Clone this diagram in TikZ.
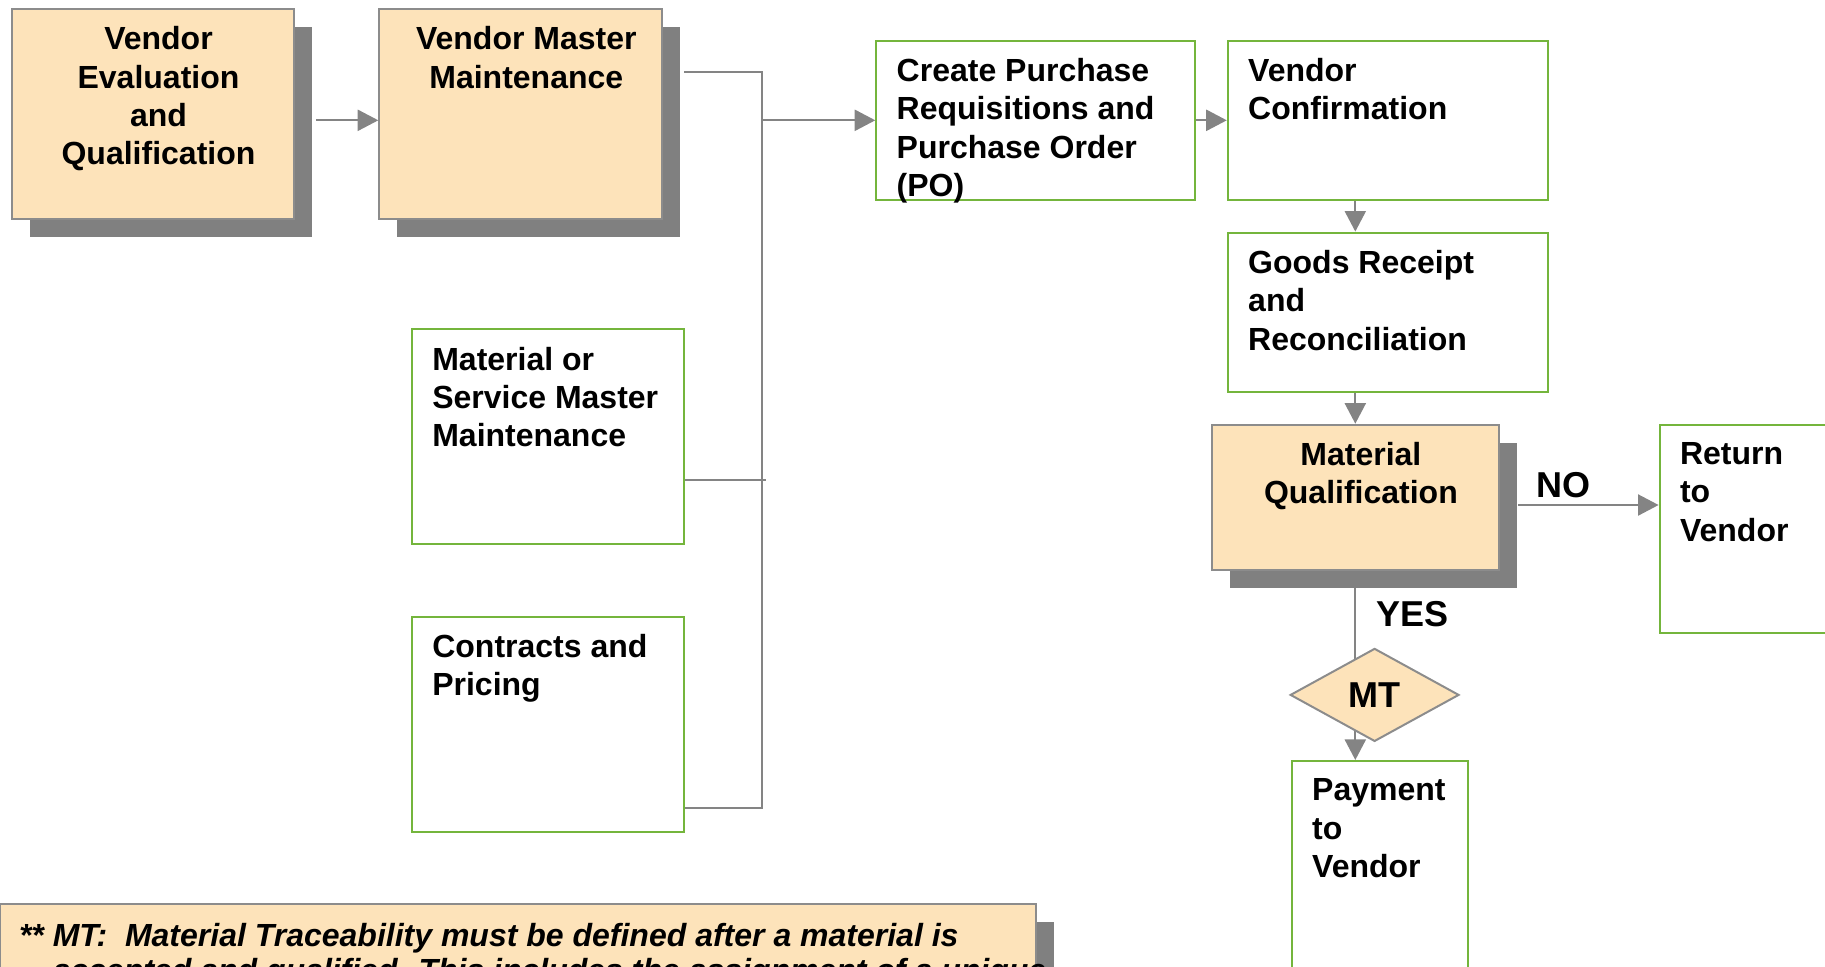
\documentclass[tikz,border=0pt]{standalone}
\usepackage{fontspec}
\setmainfont{Liberation Sans}
\usetikzlibrary{arrows.meta, shapes.geometric, shadows, backgrounds}
\definecolor{stagefill}{HTML}{FDE3BA}
\definecolor{stageline}{HTML}{8C8C8C}
\definecolor{shadowgray}{HTML}{808080}
\definecolor{taskgreen}{HTML}{74B53C}
\definecolor{linkgray}{HTML}{848484}
\tikzset{
    stage/.style={draw=stageline, line width=1pt, fill=stagefill, anchor=north west,
        drop shadow={shadow xshift=9pt, shadow yshift=-9pt, fill=shadowgray, opacity=1}},
    task/.style={draw=taskgreen, line width=1pt, fill=white, anchor=north west},
    boxtext/.style={font=\bfseries\fontsize{16}{19.2}\selectfont, inner sep=0pt, align=left, anchor=north west},
    verdict/.style={font=\bfseries\fontsize{18}{21.6}\selectfont, text=black, inner sep=0pt},
    link/.style={linkgray, line width=1.15pt},
    flow/.style={link, -{Triangle[length=10.3pt, width=10.5pt]}}
}

\begin{document}
\begin{tikzpicture}[x=0.5pt, y=-0.5pt]
    \useasboundingbox (0,0) rectangle (1825,966);
    \clip (0,0) rectangle (1825,966);

    % vendor master data
    \node[stage, minimum width=141.4pt, minimum height=104.8pt] (veq) at (10.5,8) {};
    \node[stage, minimum width=141.4pt, minimum height=104.8pt] (vmm) at (378.3,8) {};
    \node[task, minimum width=136.2pt, minimum height=107.6pt] (msm) at (410.9,328.2) {};
    \node[task, minimum width=136.2pt, minimum height=107.6pt] (cp) at (410.9,615.7) {};
    % purchasing chain
    \node[task, minimum width=159.5pt, minimum height=79.7pt] (pr) at (875.3,39.6) {};
    \node[task, minimum width=160pt, minimum height=79.7pt] (vc) at (1226.8,39.6) {};
    \node[task, minimum width=160pt, minimum height=79.7pt] (gr) at (1226.8,231.6) {};
    \node[stage, minimum width=143.8pt, minimum height=72.8pt] (mq) at (1210.5,423.7) {};
    \node[task, minimum width=110pt, minimum height=104.2pt] (rv) at (1658.6,423.7) {};
    \node[diamond, aspect=1.8, draw=stageline, line width=1pt, fill=stagefill, inner sep=0pt,
        minimum width=84.4pt, minimum height=46.5pt] (mt) at (1374.6,694.9) {};
    \node[task, minimum width=87.9pt, minimum height=120pt] (pay) at (1290.8,760) {};
    % footnote
    \node[stage, minimum width=518pt, minimum height=60pt] (note) at (-1,903.2) {};

    % box texts
    \node[boxtext, anchor=north, align=center] (veq-t) at ([xshift=2.8pt, yshift=-9.1pt]veq.north) {Vendor\\Evaluation\\and\\Qualification};
    \node[boxtext, anchor=north, align=center] (vmm-t) at ([xshift=2.8pt, yshift=-9.1pt]vmm.north) {Vendor Master\\Maintenance};
    \node[boxtext] (msm-t) at ([xshift=10.5pt, yshift=-9.1pt]msm.north west) {Material or\\Service Master\\Maintenance};
    \node[boxtext] (cp-t) at ([xshift=10.5pt, yshift=-9.1pt]cp.north west) {Contracts and\\Pricing};
    \node[boxtext] (pr-t) at ([xshift=10.5pt, yshift=-9.1pt]pr.north west) {Create Purchase\\Requisitions and\\Purchase Order\\(PO)};
    \node[boxtext] (vc-t) at ([xshift=10.5pt, yshift=-9.1pt]vc.north west) {Vendor\\Confirmation};
    \node[boxtext] (gr-t) at ([xshift=10.5pt, yshift=-9.1pt]gr.north west) {Goods Receipt\\and\\Reconciliation};
    \node[boxtext, anchor=north, align=center] (mq-t) at ([xshift=2.8pt, yshift=-9.1pt]mq.north) {Material\\Qualification};
    \node[boxtext] (rv-t) at ([xshift=10.5pt, yshift=-9.1pt]rv.north west) {Return\\to\\Vendor};
    \node[boxtext] (pay-t) at ([xshift=10.5pt, yshift=-9.1pt]pay.north west) {Payment\\to\\Vendor};
    \node[verdict] (mt-t) at (mt.center) {MT};
    \node[boxtext, font=\bfseries\itshape\fontsize{16}{17.5}\selectfont] (note-t) at ([xshift=9.8pt, yshift=-9.8pt]note.north west)
        {** MT:\ \ Material Traceability must be defined after a material is\\
         \phantom{** }accepted and qualified. This includes the assignment of a unique};

    % bus collecting the master data
    \coordinate (bustop) at (762,72);
    \coordinate (busmid) at (766,480);
    \coordinate (busbot) at (762,808);
    \draw[link] ([xshift=10.5pt]vmm.east |- bustop) -- (bustop) -- (busbot) -- (cp.east |- busbot);
    \draw[link] (msm.east |- busmid) -- (busmid);
    \draw[flow] ([xshift=10.5pt]veq.east |- pr.west) -- (vmm.west |- pr.west);
    \draw[flow] (bustop |- pr.west) -- (pr.west);

    % order to payment
    \draw[flow] (pr.east) -- (vc.west);
    \draw[flow] (vc.south -| mq.north) -- (gr.north -| mq.north);
    \draw[flow] (gr.south -| mq.north) -- (mq.north);
    \coordinate (mq-no) at ([xshift=9pt, yshift=-3.75pt]mq.east);
    \draw[flow] (mq-no) -- (rv.west |- mq-no) node[verdict, pos=0.32, above=3pt] {NO};
    \begin{scope}[on background layer]
        \draw[link] (mq.south) -- (mq.south |- mt.center) node[verdict, pos=0.35, right=9.8pt] {YES};
        \draw[flow] (mq.south |- mt.center) -- (mq.south |- pay.north);
    \end{scope}
\end{tikzpicture}
\end{document}
